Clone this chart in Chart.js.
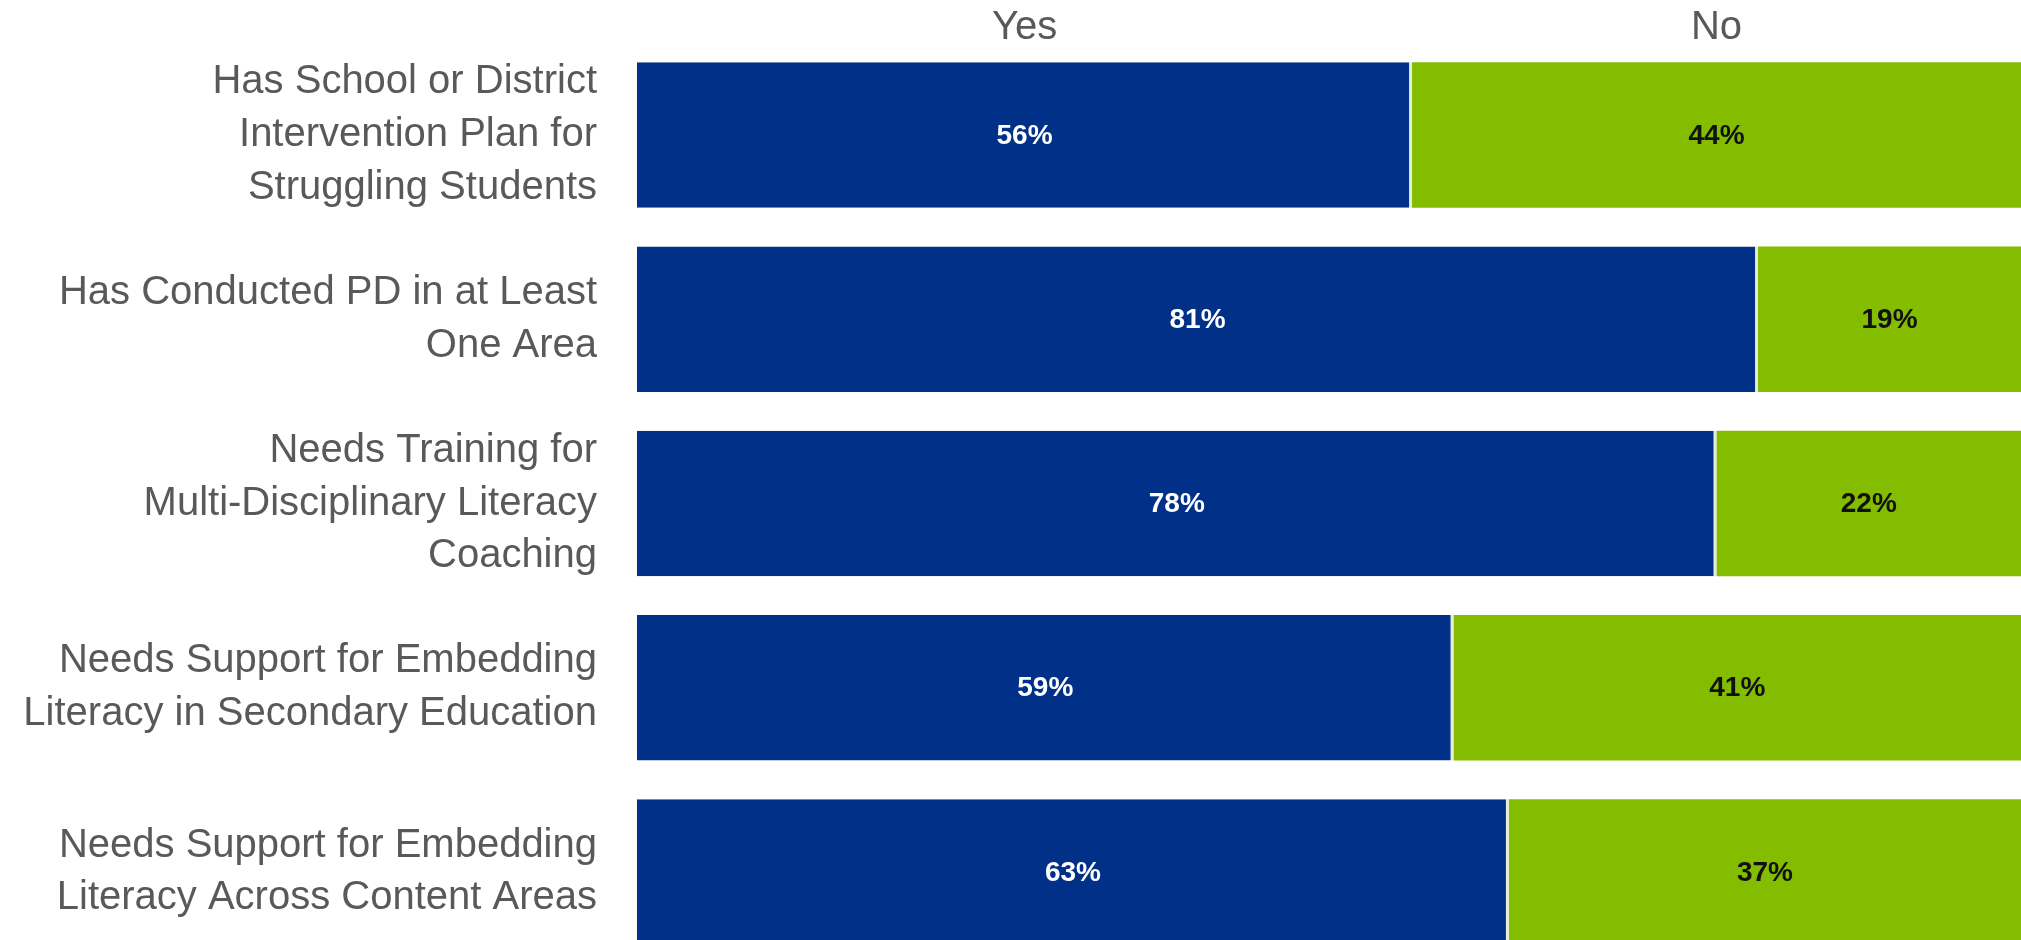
<!DOCTYPE html>
<html>
<head>
<meta charset="utf-8">
<script src="https://cdn.jsdelivr.net/npm/chart.js@4/dist/chart.umd.min.js"></script>
<style>
html,body{margin:0;padding:0;background:#fff;overflow:hidden;width:2021px;height:940px;}
canvas{display:block;}
</style>
</head>
<body>
<canvas id="c" width="2021" height="964"></canvas>
<script>
const categories = [
  ["Has School or District", "Intervention Plan for", "Struggling Students"],
  ["Has Conducted PD in at Least", "One Area"],
  ["Needs Training for", "Multi-Disciplinary Literacy", "Coaching"],
  ["Needs Support for Embedding", "Literacy in Secondary Education"],
  ["Needs Support for Embedding", "Literacy Across Content Areas"]
];
const yesValues = [56, 81, 78, 59, 63];
const noValues = [44, 19, 22, 41, 37];
const seriesNames = ["Yes", "No"];

const FONT = "'Liberation Sans', Arial, sans-serif";

const valueLabels = {
  id: 'valueLabels',
  afterDatasetsDraw(chart) {
    const ctx = chart.ctx;
    ctx.save();
    ctx.font = "bold 28px " + FONT;
    ctx.textAlign = 'center';
    ctx.textBaseline = 'middle';
    chart.data.datasets.forEach((ds, di) => {
      const meta = chart.getDatasetMeta(di);
      meta.data.forEach((el, i) => {
        const p = el.getCenterPoint();
        ctx.fillStyle = di === 0 ? '#ffffff' : '#111111';
        ctx.fillText(ds.data[i] + '%', p.x, p.y + 1);
      });
    });
    ctx.restore();
  }
};

function zeroPad(scale) {
  scale.paddingTop = 0; scale.paddingBottom = 0;
  scale.paddingLeft = 0; scale.paddingRight = 0;
}

new Chart(document.getElementById('c'), {
  type: 'bar',
  data: {
    labels: categories,
    datasets: [
      { label: seriesNames[0], data: yesValues, backgroundColor: '#003087',
        borderColor: '#e4ecd6', borderWidth: {top:0,bottom:0,left:0,right:3}, borderSkipped: false,
        barPercentage: 0.79, categoryPercentage: 1 },
      { label: seriesNames[1], data: noValues, backgroundColor: '#84BD00',
        borderWidth: 0, barPercentage: 0.79, categoryPercentage: 1 }
    ]
  },
  options: {
    indexAxis: 'y',
    responsive: false,
    animation: false,
    devicePixelRatio: 1,
    layout: { padding: { left: 0, right: 0, top: 0, bottom: 0 } },
    plugins: { legend: { display: false }, tooltip: { enabled: false } },
    scales: {
      x: {
        stacked: true, min: 0, max: 100, display: false
      },
      xTop: {
        type: 'linear', position: 'top', min: 0, max: 100,
        grid: { display: false, drawTicks: false }, border: { display: false },
        afterBuildTicks(scale) {
          scale.ticks = [
            { value: yesValues[0] / 2 },
            { value: yesValues[0] + noValues[0] / 2 }
          ];
        },
        afterFit(scale) { scale.height = 43; zeroPad(scale); },
        ticks: {
          autoSkip: false, maxRotation: 0, padding: -9,
          color: '#595959', font: { family: FONT, size: 40 },
          callback(v, idx) { return seriesNames[idx]; }
        }
      },
      y: {
        stacked: true,
        grid: { display: false, drawTicks: false }, border: { display: false },
        afterFit(scale) { scale.width = 637; zeroPad(scale); },
        ticks: {
          padding: 40, color: '#595959',
          font: { family: FONT, size: 40, lineHeight: 1.32 }
        }
      }
    }
  },
  plugins: [valueLabels]
});
</script>
</body>
</html>
